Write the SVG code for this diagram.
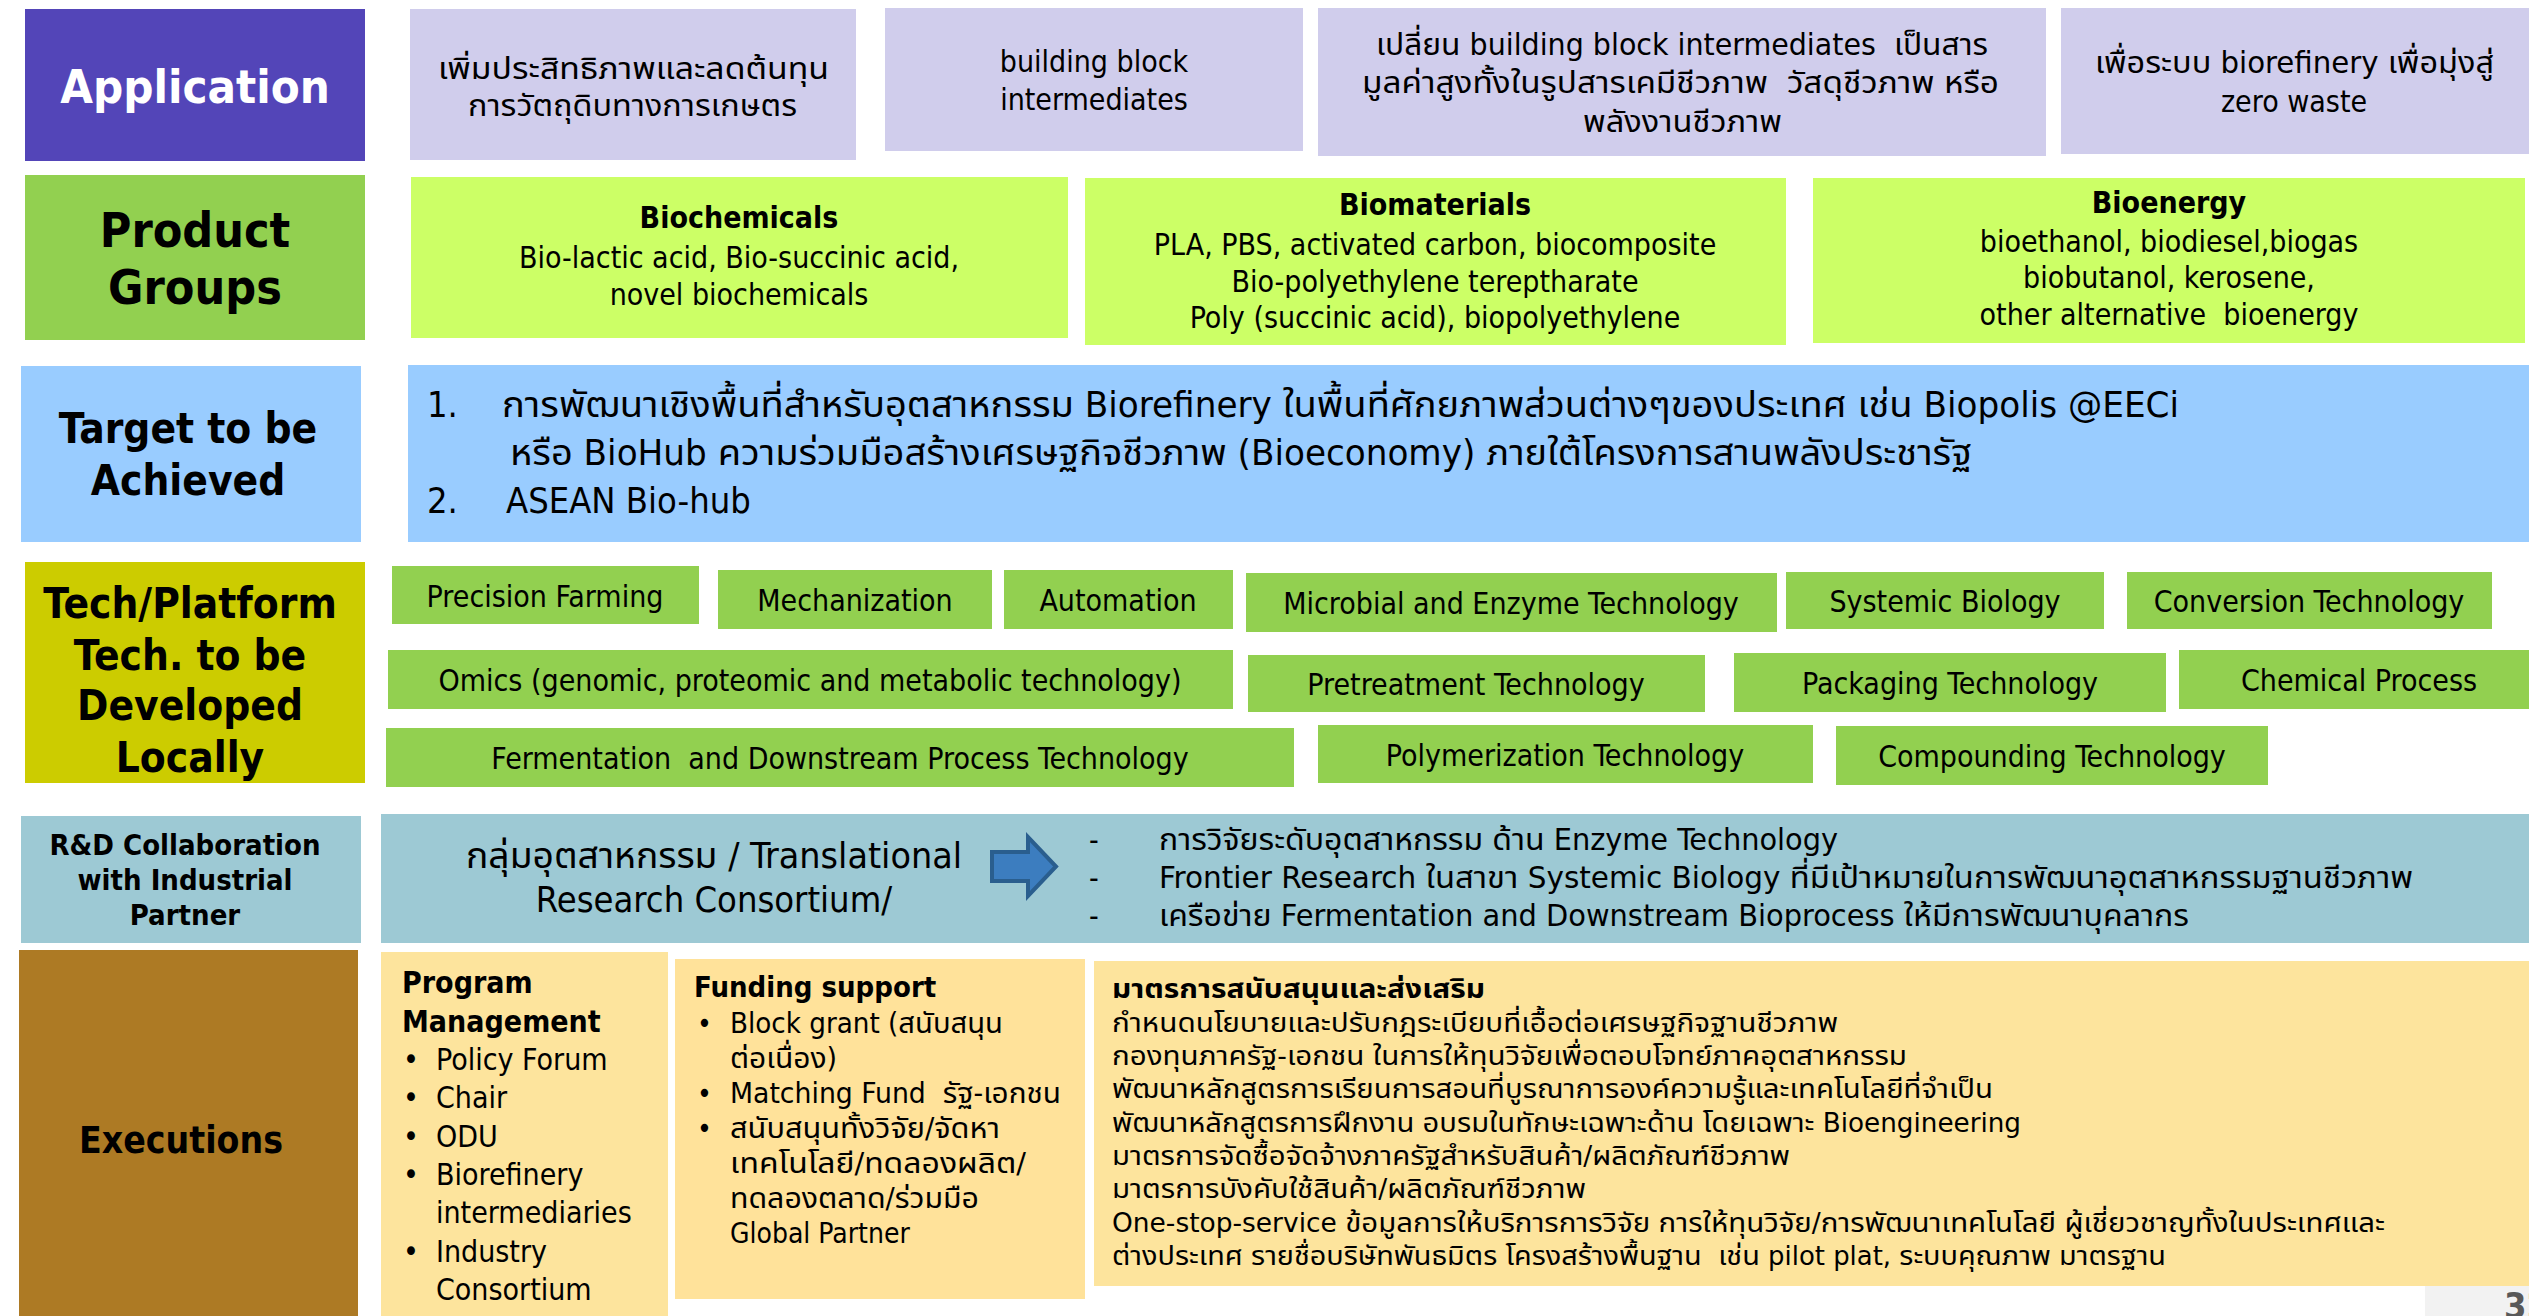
<svg xmlns="http://www.w3.org/2000/svg" width="2529" height="1316" viewBox="0 0 2529 1316">
<style>
text{font-family:"DejaVu Sans Condensed","DejaVu Sans","Noto Sans Thai","Noto Sans",sans-serif;font-stretch:condensed;fill:#000}
.c{text-anchor:middle}
.b{font-weight:bold}
.s30{font-size:30px}
.s28{font-size:28px}
.s26{font-size:26px}
.s36{font-size:36px}
.lav{fill:#D0CDEC}
.lime{fill:#CCFF66}
.grn{fill:#92D050}
.blu{fill:#99CCFF}
.teal{fill:#9DC9D4}
.yel{fill:#FDE49D}
</style>
<rect width="2529" height="1316" fill="#fff"/>

<g id="application">
<rect x="25" y="9" width="340" height="152" fill="#5345B8"/>
<text x="195" y="103" class="c b" font-size="47" style="fill:#fff">Application</text>
</g>
<g id="app1">
<rect class="lav" x="410" y="9" width="446" height="151"/>
<text x="438" y="79" class="s30" textLength="391" lengthAdjust="spacingAndGlyphs">เพิ่มประสิทธิภาพและลดต้นทุน</text>
<text x="468" y="116" class="s30" textLength="329" lengthAdjust="spacingAndGlyphs">การวัตถุดิบทางการเกษตร</text>
</g>
<g id="app2">
<rect class="lav" x="885" y="8" width="418" height="143"/>
<text x="1094" y="72" class="c s30">building block</text>
<text x="1094" y="110" class="c s30">intermediates</text>
</g>
<g id="app3">
<rect class="lav" x="1318" y="8" width="728" height="148"/>
<text x="1376" y="55" class="s30" xml:space="preserve" textLength="612" lengthAdjust="spacingAndGlyphs">เปลี่ยน building block intermediates  เป็นสาร</text>
<text x="1362" y="93" class="s30" xml:space="preserve" textLength="637" lengthAdjust="spacingAndGlyphs">มูลค่าสูงทั้งในรูปสารเคมีชีวภาพ  วัสดุชีวภาพ หรือ</text>
<text x="1583" y="132" class="s30" textLength="199" lengthAdjust="spacingAndGlyphs">พลังงานชีวภาพ</text>
</g>
<g id="app4">
<rect class="lav" x="2061" y="8" width="468" height="146"/>
<text x="2095" y="73" class="s30" textLength="399" lengthAdjust="spacingAndGlyphs">เพื่อระบบ biorefinery เพื่อมุ่งสู่</text>
<text x="2294" y="112" class="c s30">zero waste</text>
</g>

<g id="product-groups">
<rect class="grn" x="25" y="175" width="340" height="165"/>
<text x="195" y="247" class="c b" font-size="48">Product</text>
<text x="195" y="304" class="c b" font-size="48">Groups</text>
</g>
<g id="biochemicals">
<rect class="lime" x="411" y="177" width="657" height="161"/>
<text x="739" y="228" class="c b s30">Biochemicals</text>
<text x="739" y="268" class="c s30">Bio-lactic acid, Bio-succinic acid,</text>
<text x="739" y="305" class="c s30">novel biochemicals</text>
</g>
<g id="biomaterials">
<rect class="lime" x="1085" y="178" width="701" height="167"/>
<text x="1435" y="215" class="c b s30">Biomaterials</text>
<text x="1435" y="255" class="c s30">PLA, PBS, activated carbon, biocomposite</text>
<text x="1435" y="292" class="c s30">Bio-polyethylene tereptharate</text>
<text x="1435" y="328" class="c s30">Poly (succinic acid), biopolyethylene</text>
</g>
<g id="bioenergy">
<rect class="lime" x="1813" y="178" width="712" height="165"/>
<text x="2169" y="213" class="c b s30">Bioenergy</text>
<text x="2169" y="252" class="c s30">bioethanol, biodiesel,biogas</text>
<text x="2169" y="288" class="c s30">biobutanol, kerosene,</text>
<text x="2169" y="325" class="c s30" xml:space="preserve">other alternative  bioenergy</text>
</g>

<g id="target">
<rect class="blu" x="21" y="366" width="340" height="176"/>
<text x="188" y="443" class="c b" font-size="42">Target to be</text>
<text x="188" y="495" class="c b" font-size="42">Achieved</text>
</g>
<g id="target-items">
<rect class="blu" x="408" y="365" width="2121" height="177"/>
<text x="427" y="417" class="s36">1.</text>
<text x="502" y="417" class="s36" textLength="1677" lengthAdjust="spacingAndGlyphs">การพัฒนาเชิงพื้นที่สำหรับอุตสาหกรรม Biorefinery ในพื้นที่ศักยภาพส่วนต่างๆของประเทศ เช่น Biopolis @EECi</text>
<text x="510" y="465" class="s36" textLength="1462" lengthAdjust="spacingAndGlyphs">หรือ BioHub ความร่วมมือสร้างเศรษฐกิจชีวภาพ (Bioeconomy) ภายใต้โครงการสานพลังประชารัฐ</text>
<text x="427" y="513" class="s36">2.</text>
<text x="506" y="513" class="s36">ASEAN Bio-hub</text>
</g>

<g id="tech-platform">
<rect x="25" y="562" width="340" height="221" fill="#CCCC00"/>
<text x="190" y="618" class="c b" font-size="42">Tech/Platform</text>
<text x="190" y="670" class="c b" font-size="42">Tech. to be</text>
<text x="190" y="720" class="c b" font-size="42">Developed</text>
<text x="190" y="772" class="c b" font-size="42">Locally</text>
</g>
<g id="precision-farming"><rect class="grn" x="392" y="566" width="307" height="58"/><text x="545" y="607" class="c s30">Precision Farming</text></g>
<g id="mechanization"><rect class="grn" x="718" y="570" width="274" height="59"/><text x="855" y="611" class="c s30">Mechanization</text></g>
<g id="automation"><rect class="grn" x="1004" y="570" width="229" height="59"/><text x="1118" y="611" class="c s30">Automation</text></g>
<g id="microbial"><rect class="grn" x="1246" y="573" width="531" height="59"/><text x="1511" y="614" class="c s30">Microbial and Enzyme Technology</text></g>
<g id="systemic"><rect class="grn" x="1786" y="572" width="318" height="57"/><text x="1945" y="612" class="c s30">Systemic Biology</text></g>
<g id="conversion"><rect class="grn" x="2127" y="572" width="365" height="57"/><text x="2309" y="612" class="c s30">Conversion Technology</text></g>
<g id="omics"><rect class="grn" x="388" y="650" width="845" height="59"/><text x="810" y="691" class="c s30">Omics (genomic, proteomic and metabolic technology)</text></g>
<g id="pretreatment"><rect class="grn" x="1248" y="655" width="457" height="57"/><text x="1476" y="695" class="c s30">Pretreatment Technology</text></g>
<g id="packaging"><rect class="grn" x="1734" y="653" width="432" height="59"/><text x="1950" y="694" class="c s30">Packaging Technology</text></g>
<g id="chemical"><rect class="grn" x="2179" y="650" width="350" height="59"/><text x="2359" y="691" class="c s30">Chemical Process</text></g>
<g id="fermentation"><rect class="grn" x="386" y="728" width="908" height="59"/><text x="840" y="769" class="c s30" xml:space="preserve">Fermentation  and Downstream Process Technology</text></g>
<g id="polymerization"><rect class="grn" x="1318" y="725" width="495" height="58"/><text x="1565" y="766" class="c s30">Polymerization Technology</text></g>
<g id="compounding"><rect class="grn" x="1836" y="726" width="432" height="59"/><text x="2052" y="767" class="c s30">Compounding Technology</text></g>

<g id="rd-collab">
<rect class="teal" x="21" y="816" width="340" height="127"/>
<text x="185" y="855" class="c b" font-size="29">R&amp;D Collaboration</text>
<text x="185" y="890" class="c b" font-size="29">with Industrial</text>
<text x="185" y="925" class="c b" font-size="29">Partner</text>
</g>
<g id="rd-detail">
<rect class="teal" x="381" y="814" width="2148" height="129"/>
<text x="466" y="868" class="s36" textLength="496" lengthAdjust="spacingAndGlyphs">กลุ่มอุตสาหกรรม / Translational</text>
<text x="714" y="912" class="c s36">Research Consortium/</text>
<text x="1089" y="850" class="s30">-</text>
<text x="1159" y="850" class="s30" textLength="679" lengthAdjust="spacingAndGlyphs">การวิจัยระดับอุตสาหกรรม ด้าน Enzyme Technology</text>
<text x="1089" y="888" class="s30">-</text>
<text x="1159" y="888" class="s30" textLength="1254" lengthAdjust="spacingAndGlyphs">Frontier Research ในสาขา Systemic Biology ที่มีเป้าหมายในการพัฒนาอุตสาหกรรมฐานชีวภาพ</text>
<text x="1089" y="926" class="s30">-</text>
<text x="1159" y="926" class="s30" textLength="1030" lengthAdjust="spacingAndGlyphs">เครือข่าย Fermentation and Downstream Bioprocess ให้มีการพัฒนาบุคลากร</text>
</g>

<g id="connectors">
<path d="M992 852 H1028 V837 L1056 866.5 L1028 896 V881 H992 Z" fill="#3C7DBF" stroke="#2A5E8E" stroke-width="4" stroke-linejoin="miter"/>
</g>

<g id="executions">
<rect x="19" y="950" width="339" height="366" fill="#AD7A24"/>
<text x="181" y="1153" class="c b" font-size="37">Executions</text>
</g>
<g id="program-management">
<rect class="yel" x="381" y="952" width="287" height="364"/>
<text x="402" y="993" class="b s30">Program</text>
<text x="402" y="1032" class="b s30">Management</text>
<text x="403" y="1070" class="s30">•</text><text x="436" y="1070" class="s30">Policy Forum</text>
<text x="403" y="1108" class="s30">•</text><text x="436" y="1108" class="s30">Chair</text>
<text x="403" y="1147" class="s30">•</text><text x="436" y="1147" class="s30">ODU</text>
<text x="403" y="1185" class="s30">•</text><text x="436" y="1185" class="s30">Biorefinery</text>
<text x="436" y="1223" class="s30">intermediaries</text>
<text x="403" y="1262" class="s30">•</text><text x="436" y="1262" class="s30">Industry</text>
<text x="436" y="1300" class="s30">Consortium</text>
</g>
<g id="funding-support">
<rect x="675" y="959" width="410" height="340" fill="#FFE29A"/>
<text x="694" y="997" class="b" font-size="29">Funding support</text>
<text x="697" y="1033" class="s28">•</text><text x="730" y="1033" class="s28" textLength="273" lengthAdjust="spacingAndGlyphs">Block grant (สนับสนุน</text>
<text x="730" y="1068" class="s28" textLength="107" lengthAdjust="spacingAndGlyphs">ต่อเนื่อง)</text>
<text x="697" y="1103" class="s28">•</text><text x="730" y="1103" class="s28" xml:space="preserve" textLength="331" lengthAdjust="spacingAndGlyphs">Matching Fund  รัฐ-เอกชน</text>
<text x="697" y="1138" class="s28">•</text><text x="730" y="1138" class="s28" textLength="270" lengthAdjust="spacingAndGlyphs">สนับสนุนทั้งวิจัย/จัดหา</text>
<text x="730" y="1173" class="s28" textLength="296" lengthAdjust="spacingAndGlyphs">เทคโนโลยี/ทดลองผลิต/</text>
<text x="730" y="1208" class="s28" textLength="249" lengthAdjust="spacingAndGlyphs">ทดลองตลาด/ร่วมมือ</text>
<text x="730" y="1243" class="s28">Global Partner</text>
</g>
<g id="measures">
<rect class="yel" x="1094" y="961" width="1435" height="325"/>
<text x="1112" y="998" class="b s26" textLength="373" lengthAdjust="spacingAndGlyphs">มาตรการสนับสนุนและส่งเสริม</text>
<text x="1112" y="1032" class="s26" textLength="726" lengthAdjust="spacingAndGlyphs">กำหนดนโยบายและปรับกฎระเบียบที่เอื้อต่อเศรษฐกิจฐานชีวภาพ</text>
<text x="1112" y="1065" class="s26" textLength="795" lengthAdjust="spacingAndGlyphs">กองทุนภาครัฐ-เอกชน ในการให้ทุนวิจัยเพื่อตอบโจทย์ภาคอุตสาหกรรม</text>
<text x="1112" y="1098" class="s26" textLength="881" lengthAdjust="spacingAndGlyphs">พัฒนาหลักสูตรการเรียนการสอนที่บูรณาการองค์ความรู้และเทคโนโลยีที่จำเป็น</text>
<text x="1112" y="1132" class="s26" textLength="909" lengthAdjust="spacingAndGlyphs">พัฒนาหลักสูตรการฝึกงาน อบรมในทักษะเฉพาะด้าน โดยเฉพาะ Bioengineering</text>
<text x="1112" y="1165" class="s26" textLength="678" lengthAdjust="spacingAndGlyphs">มาตรการจัดซื้อจัดจ้างภาครัฐสำหรับสินค้า/ผลิตภัณฑ์ชีวภาพ</text>
<text x="1112" y="1198" class="s26" textLength="474" lengthAdjust="spacingAndGlyphs">มาตรการบังคับใช้สินค้า/ผลิตภัณฑ์ชีวภาพ</text>
<text x="1112" y="1232" class="s26" textLength="1273" lengthAdjust="spacingAndGlyphs">One-stop-service ข้อมูลการให้บริการการวิจัย การให้ทุนวิจัย/การพัฒนาเทคโนโลยี ผู้เชี่ยวชาญทั้งในประเทศและ</text>
<text x="1112" y="1265" class="s26" xml:space="preserve" textLength="1054" lengthAdjust="spacingAndGlyphs">ต่างประเทศ รายชื่อบริษัทพันธมิตร โครงสร้างพื้นฐาน  เช่น pilot plat, ระบบคุณภาพ มาตรฐาน</text>
</g>

<g id="page-number">
<rect x="2425" y="1286" width="104" height="30" fill="#F2F2F2"/>
<text x="2504" y="1318" class="b s36" style="fill:#595959">32</text>
</g>
</svg>
